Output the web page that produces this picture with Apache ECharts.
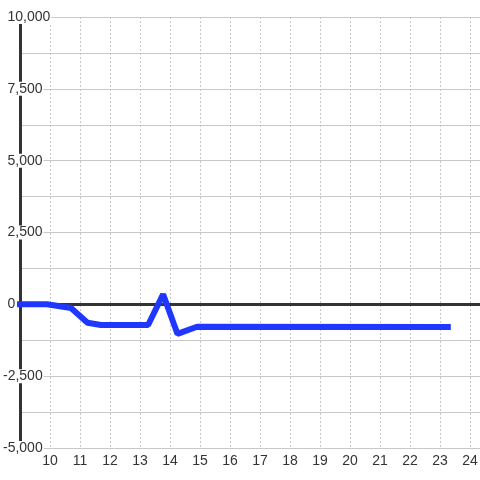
<!DOCTYPE html>
<html>
<head>
<meta charset="utf-8">
<style>
  html, body { margin: 0; padding: 0; background: #fff; }
  #chart { width: 480px; height: 480px; }
</style>
<script src="https://cdn.jsdelivr.net/npm/echarts@6/dist/echarts.min.js"></script>
</head>
<body>
<div id="chart"></div>
<script>
var hours = [8.9, 9.9, 10.7, 11.25, 11.7, 13.27, 13.77, 14.25, 14.9, 23.36];
var values = [0, 0, -130, -640, -720, -720, 350, -1030, -780, -790];
var xTicks = [10, 11, 12, 13, 14, 15, 16, 17, 18, 19, 20, 21, 22, 23, 24];
var yLabels = [-5000, -2500, 0, 2500, 5000, 7500, 10000];

(function () {
  var ink = '#333';
  var rule = '#c8c8c8';
  var font = 'Liberation Sans, Arial, sans-serif';

  var chart = echarts.init(document.getElementById('chart'), null, { renderer: 'canvas' });
  chart.setOption({
    animation: false,
    backgroundColor: '#fff',
    grid: { left: 20, right: 0, top: 17, bottom: 32, containLabel: false, outerBoundsMode: 'none' },
    xAxis: {
      type: 'value',
      min: 9,
      max: 24.333,
      interval: 1,
      axisLine: { show: false },
      axisTick: { show: false },
      axisLabel: {
        color: ink,
        fontFamily: font,
        fontSize: 14,
        margin: 6,
        showMinLabel: false,
        formatter: function (v) {
          return xTicks.indexOf(v) >= 0 ? String(v) : '';
        }
      },
      splitLine: {
        show: true,
        showMinLine: false,
        showMaxLine: false,
        lineStyle: { color: rule, type: [2, 2], width: 1 }
      }
    },
    yAxis: {
      type: 'value',
      min: -5000,
      max: 10000,
      interval: 1250,
      axisLine: { show: true, lineStyle: { color: ink, width: 3 } },
      axisTick: { show: false },
      axisLabel: {
        color: ink,
        fontFamily: font,
        fontSize: 14,
        align: 'left',
        margin: 17,
        lineHeight: 14,
        backgroundColor: '#fff',
        padding: [0, 1, 0, 0],
        rich: {
          pad: { width: 4.5, height: 14 }
        },
        formatter: function (v) {
          if (yLabels.indexOf(v) < 0) return '';
          var s = v.toLocaleString('en-US');
          // minus sign hangs to the left, positive labels start a little further in
          return v < 0 ? s : '{pad|}' + s;
        }
      },
      splitLine: { show: true, lineStyle: { color: rule, width: 1 } }
    },
    series: [{
      type: 'line',
      data: hours.map(function (h, i) { return [h, values[i]]; }),
      showSymbol: false,
      clip: false,
      z: 5,
      lineStyle: { color: '#1f37ff', width: 6, join: 'bevel', cap: 'butt' },
      markLine: {
        silent: true,
        symbol: 'none',
        label: { show: false },
        lineStyle: { color: ink, width: 3, type: 'solid' },
        z: 1,
        data: [{ yAxis: 0 }]
      }
    }]
  });
})();
</script>
</body>
</html>
